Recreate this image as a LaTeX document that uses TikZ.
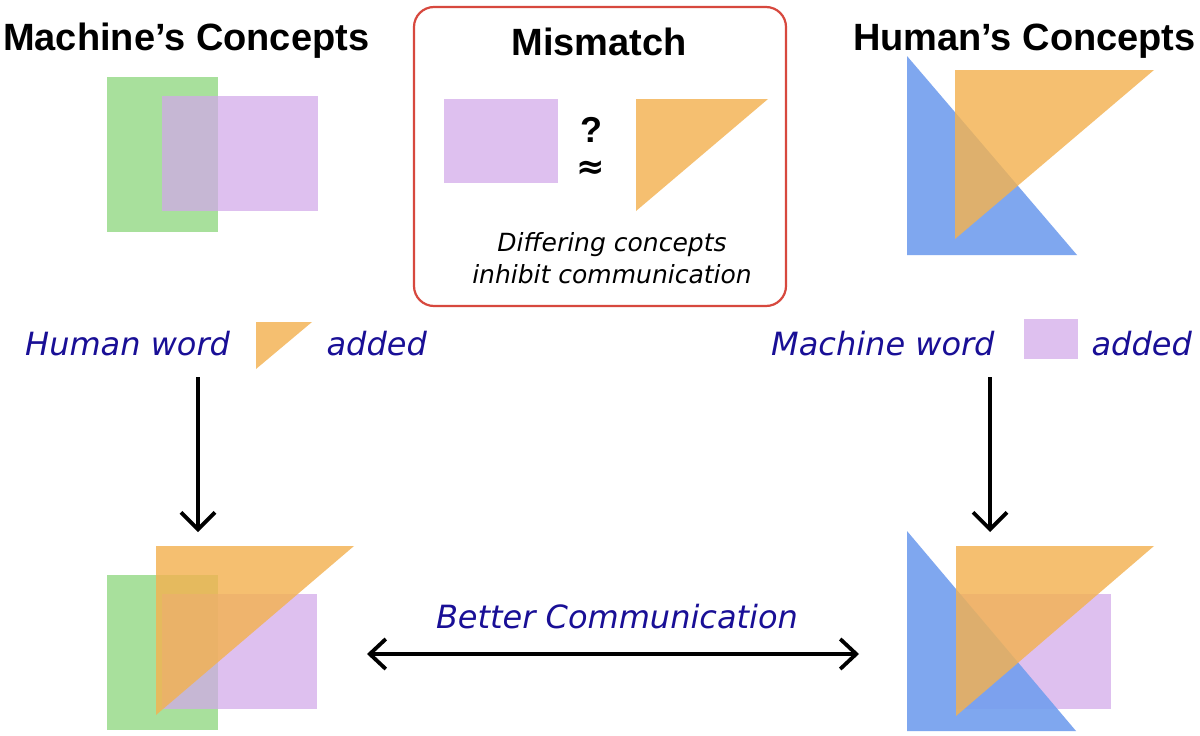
\documentclass[tikz,border=0pt]{standalone}
\usepackage{fontspec}
\setmainfont{Liberation Sans}
\newfontfamily\dvsans{DejaVu Sans}
\usetikzlibrary{arrows.meta}
\definecolor{cgreen}{RGB}{168,224,156}
\definecolor{cpurple}{RGB}{210,168,234}
\definecolor{corange}{RGB}{243,178,81}
\definecolor{cblue}{RGB}{114,158,238}
\definecolor{cnavy}{RGB}{25,15,150}
\definecolor{cred}{RGB}{215,72,62}
\tikzset{
  greenfill/.style={fill=cgreen},
  purplefill/.style={fill=cpurple, fill opacity=0.72},
  orangefill/.style={fill=corange, fill opacity=0.82},
  bluefill/.style={fill=cblue, fill opacity=0.9},
  headtxt/.style={inner sep=0pt, font=\fontsize{38}{40}\selectfont\bfseries},
  bluetxt/.style={inner sep=0pt, text=cnavy, font=\dvsans\itshape\fontsize{32}{36}\selectfont},
  greytxt/.style={inner sep=0pt, font=\dvsans\itshape\fontsize{25}{32}\selectfont, align=center},
  arr/.style={line width=3.8pt, draw=black, -{Straight Barb[length=17pt,width=34pt]}},
  darr/.style={line width=3.8pt, draw=black, {Straight Barb[length=16pt,width=30pt]}-{Straight Barb[length=16pt,width=30pt]}},
  mbox/.style={draw=cred, line width=2.2pt, rounded corners=20pt}
}
\begin{document}
\begin{tikzpicture}[x=1pt,y=-1pt]
\useasboundingbox (0,0) rectangle (1200,736);
\fill[white] (0,0) rectangle (1200,736);

% ---- headings
\node[headtxt, anchor=base west] (hmach) at (3,50) {Machine’s Concepts};
\node[headtxt, anchor=base east] (hhum) at (1196,50) {Human’s Concepts};

% ---- top-left machine concepts
\fill[greenfill] (107,77) rectangle (218,232);
\fill[purplefill] (162,96) rectangle (318,211);

% ---- top-right human concepts
\fill[bluefill] (907,56) -- (907,255) -- (1077,255) -- cycle;
\fill[orangefill] (955,70) -- (1154,70) -- (955,239) -- cycle;

% ---- mismatch box
\draw[mbox] (414,7) rectangle (786,306);
\node[headtxt, anchor=base] (hmis) at (599,55) {Mismatch};
\fill[purplefill] (444,99) rectangle (558,183);
\fill[orangefill] (636,99) -- (768,99) -- (636,211) -- cycle;
\node[inner sep=0pt, align=center, anchor=base, font=\fontsize{36}{36}\selectfont\bfseries] (qapprox) at (591,178) {?\\{\dvsans\fontsize{34}{36}\selectfont ≈}};
\node[greytxt, anchor=base] (diff) at (612,283) {Differing concepts\\inhibit communication};

% ---- legend rows
\node[bluetxt, anchor=base west] (hw) at (25,355) {Human word};
\fill[orangefill] (256,322) -- (312,322) -- (256,369) -- cycle;
\node[bluetxt, anchor=base east] (add1) at (427,355) {added};

\node[bluetxt, anchor=base west] (mw) at (771,355) {Machine word};
\fill[purplefill] (1024,319) rectangle (1078,359);
\node[bluetxt, anchor=base east] (add2) at (1192,355) {added};

% ---- arrows
\coordinate (la1) at (198,377);
\coordinate (la2) at (198,532);
\coordinate (ra1) at (990,377);
\coordinate (ra2) at (990,532);
\draw[arr] (la1) -- (la2);
\draw[arr] (ra1) -- (ra2);

\coordinate (ha1) at (367,654);
\coordinate (ha2) at (859,654);
\draw[darr] (ha1) -- (ha2);
\node[bluetxt, anchor=base] (better) at (617,628) {Better Communication};

% ---- bottom-left combined
\fill[greenfill] (107,575) rectangle (218,730);
\fill[purplefill] (162,594) rectangle (317,709);
\fill[orangefill] (156,546) -- (354,546) -- (156,715) -- cycle;

% ---- bottom-right combined
\fill[purplefill] (956,594) rectangle (1111,709);
\fill[bluefill] (907,531) -- (907,731) -- (1076,731) -- cycle;
\fill[orangefill] (956,546) -- (1154,546) -- (956,716) -- cycle;
\end{tikzpicture}
\end{document}
